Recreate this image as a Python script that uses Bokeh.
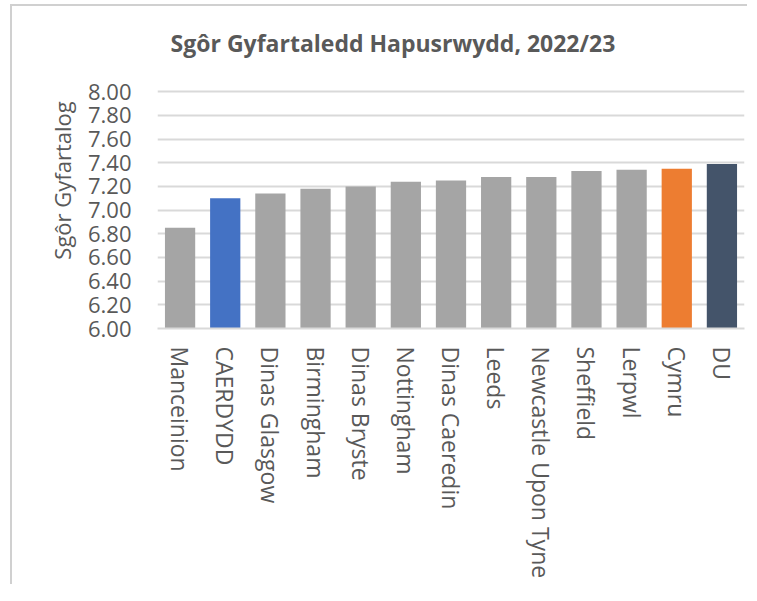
import math
from bokeh.plotting import figure
from bokeh.models import FactorRange, Range1d, ColumnDataSource, FixedTicker, CustomJSTickFormatter, Label
from bokeh.embed import file_html
from bokeh.resources import INLINE

categories = ["Manceinion", "CAERDYDD", "Dinas Glasgow", "Birmingham", "Dinas Bryste",
              "Nottingham", "Dinas Caeredin", "Leeds", "Newcastle Upon Tyne", "Sheffield",
              "Lerpwl", "Cymru", "DU"]
values = [6.85, 7.10, 7.14, 7.18, 7.20, 7.24, 7.25, 7.28, 7.28, 7.33, 7.34, 7.35, 7.39]
colors = ["#A5A5A5", "#4472C4", "#A5A5A5", "#A5A5A5", "#A5A5A5", "#A5A5A5", "#A5A5A5",
          "#A5A5A5", "#A5A5A5", "#A5A5A5", "#A5A5A5", "#ED7D31", "#44546A"]
y_ticks = [6.0, 6.2, 6.4, 6.6, 6.8, 7.0, 7.2, 7.4, 7.6, 7.8, 8.0]
title_text = "Sgôr Gyfartaledd Hapusrwydd, 2022/23"
y_title = "Sgôr Gyfartalog"

FONT = "Open Sans"
TXT = "#595959"
GRID = "#D9D9D9"

src = ColumnDataSource(dict(cat=categories, val=values, col=colors))

# frame extends above 8.00 so the title can sit inside it
p = figure(x_range=FactorRange(*categories), y_range=Range1d(6.0, 8.5),
           frame_width=587, frame_height=296,
           min_border_left=145, min_border_right=3, min_border_top=26, min_border_bottom=256,
           output_backend="svg", toolbar_location=None, tools="")

p.vbar(x="cat", top="val", bottom=6.0, width=0.67, fill_color="col", line_color=None, source=src)

title_label = Label(x=0.29, y=8.412, x_units="data", y_units="data", text=title_text,
                    text_font=FONT, text_font_size="23px", text_font_style="bold",
                    text_color=TXT, text_align="left", text_baseline="alphabetic")
p.add_layout(title_label)

p.outline_line_color = None
p.xgrid.grid_line_color = None
p.ygrid.grid_line_color = GRID
p.ygrid.grid_line_width = 2

p.yaxis.ticker = FixedTicker(ticks=y_ticks)
p.yaxis.formatter = CustomJSTickFormatter(code="return tick.toFixed(2);")
p.yaxis.axis_line_color = None
p.yaxis.major_tick_line_color = None
p.yaxis.minor_tick_line_color = None
p.yaxis.major_label_text_font = FONT
p.yaxis.major_label_text_font_size = "22px"
p.yaxis.major_label_text_color = TXT
p.yaxis.major_label_standoff = 20
p.yaxis.axis_label = y_title
p.yaxis.axis_label_text_font = FONT
p.yaxis.axis_label_text_font_size = "22px"
p.yaxis.axis_label_text_font_style = "normal"
p.yaxis.axis_label_text_color = TXT
p.yaxis.axis_label_standoff = 8

p.xaxis.axis_line_color = GRID
p.xaxis.axis_line_width = 2
p.xaxis.major_tick_line_color = None
p.xaxis.minor_tick_line_color = None
p.xaxis.major_label_orientation = -math.pi / 2
p.xaxis.major_label_text_font = FONT
p.xaxis.major_label_text_font_size = "23px"
p.xaxis.major_label_text_color = TXT
p.xaxis.major_label_standoff = 12

p.styles = {"border-left": "2px solid #D0D0D0", "border-top": "2px solid #D0D0D0",
            "margin-left": "10px", "margin-top": "4px"}

open("out.html", "w").write(file_html(p, INLINE))
